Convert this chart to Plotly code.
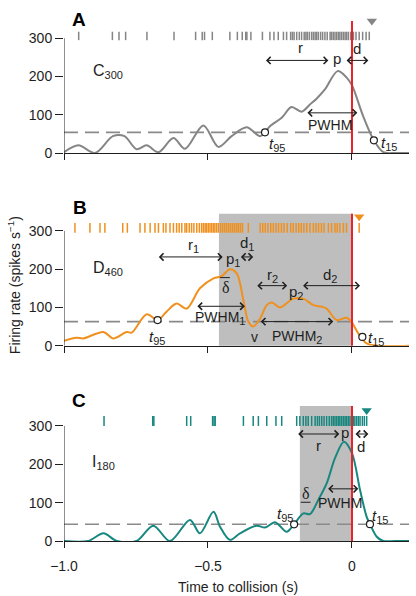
import plotly.graph_objects as go

# ---------------- data ----------------
# Panel A (C300)
A_t = [-1.0, -0.95, -0.892, -0.83, -0.79, -0.748, -0.713, -0.672, -0.62, -0.58, -0.516, -0.464,
       -0.418, -0.366, -0.319, -0.302, -0.285, -0.244, -0.21, -0.175, -0.146, -0.123, -0.094,
       -0.05, -0.0185, 0.0, 0.039, 0.076, 0.109, 0.15, 0.198]
A_rate = [2, 20, 0, 44, 44, 10, 20, 2, 39, 11, 72, 16, 44, 67, 44, 54, 70, 92, 120, 108, 127, 142,
          166, 214, 197, 177, 96, 33, 2, 0, 0]
A_spikes = [-0.949, -0.832, -0.809, -0.786, -0.712, -0.618, -0.543, -0.520, -0.512, -0.485, -0.424,
            -0.398, -0.381, -0.369, -0.365, -0.351, -0.311, -0.285, -0.271, -0.256, -0.238, -0.227,
            -0.213, -0.207, -0.201, -0.192, -0.183, -0.175, -0.166, -0.160, -0.155, -0.148, -0.140,
            -0.134, -0.128, -0.123, -0.117, -0.109, -0.102, -0.094, -0.086, -0.076, -0.071, -0.065,
            -0.059, -0.053, -0.047, -0.042, -0.036, -0.030, -0.024, -0.019, -0.013, -0.005, 0.005,
            0.014, 0.025, 0.037, 0.049, 0.060]
A_thr = 54
A_t95 = (-0.302, 54)
A_t15 = (0.076, 33)
A_tri = 0.069

# Panel B (D460)
B_t = [-1.0, -0.956, -0.933, -0.863, -0.829, -0.782, -0.765, -0.713, -0.675, -0.644, -0.609, -0.574,
       -0.528, -0.481, -0.452, -0.424, -0.40, -0.377, -0.36, -0.343, -0.319, -0.296, -0.278, -0.25,
       -0.204, -0.169, -0.134, -0.105, -0.088, -0.053, -0.0185, 0.0, 0.022, 0.051, 0.09, 0.198]
B_rate = [13, 21, 19, 36, 19, 36, 34, 82, 67, 89, 110, 97, 150, 176, 182, 200, 189, 119, 63, 50, 71,
          106, 113, 100, 123, 123, 106, 102, 97, 67, 73, 60, 32, 6, 0, 0]
B_spikes = [-0.962, -0.910, -0.875, -0.858, -0.796, -0.780, -0.736, -0.719, -0.701, -0.684, -0.672,
            -0.655, -0.646, -0.632, -0.620, -0.609, -0.600, -0.591, -0.580, -0.574, -0.565, -0.557,
            -0.549, -0.539, -0.530, -0.522, -0.516, -0.510, -0.505, -0.499, -0.493, -0.487, -0.481,
            -0.476, -0.470, -0.464, -0.456, -0.449, -0.442, -0.435, -0.428, -0.421, -0.414, -0.407,
            -0.400, -0.394, -0.387, -0.380, -0.360, -0.319, -0.310, -0.301, -0.292, -0.282, -0.273,
            -0.264, -0.255, -0.245, -0.236, -0.225, -0.213, -0.204, -0.194, -0.185, -0.176, -0.167,
            -0.157, -0.146, -0.134, -0.125, -0.116, -0.106, -0.097, -0.082, -0.071, -0.059, -0.051,
            -0.042, -0.030, -0.019, 0.025]
B_thr = 63
B_t95 = (-0.675, 67)
B_t15 = (0.036, 23)
B_tri = 0.025
B_shade = -0.462

# Panel C (I180)
C_t = [-1.0, -0.916, -0.863, -0.817, -0.748, -0.69, -0.632, -0.5625, -0.528, -0.481, -0.458, -0.424,
       -0.389, -0.331, -0.302, -0.267, -0.227, -0.201, -0.169, -0.146, -0.117, -0.088, -0.059,
       -0.028, 0.0, 0.028, 0.051, 0.0625, 0.086, 0.109, 0.15, 0.198]
C_rate = [0, 0, 20, 0, 0, 40, 0, 55, 20, 76, 37, 3, 20, 40, 35, 49, 24, 43.5, 72, 70, 107, 150, 216,
          259, 229, 133, 63, 44, 11, 0, 0, 0]
C_spikes = [-0.861, -0.692, -0.688, -0.574, -0.560, -0.484, -0.479, -0.475, -0.377, -0.343, -0.325,
            -0.296, -0.264, -0.244, -0.192, -0.181, -0.169, -0.160, -0.152, -0.140, -0.128, -0.120,
            -0.113, -0.105, -0.097, -0.088, -0.079, -0.071, -0.065, -0.059, -0.053, -0.047, -0.042,
            -0.036, -0.030, -0.024, -0.019, -0.013, -0.007, -0.001, 0.005, 0.010, 0.016, 0.022,
            0.028, 0.036, 0.043, 0.051]
C_thr = 43.5
C_t95 = (-0.201, 43.5)
C_t15 = (0.0625, 44)
C_tri = 0.051
C_shade = -0.181

y_ticks = [0, 100, 200, 300]
x_ticks = [-1.0, -0.5, 0]
x_ticktext = ["\u22121.0", "\u22120.5", "0"]

# ---------------- styling ----------------
FONT = "Arial, Liberation Sans, sans-serif"
SERIF = "Times New Roman, Liberation Serif, serif"
INK = "#1e1e1e"
GRAY = "#858585"
ORANGE = "#f0901e"
TEAL = "#17877f"
SHADE = "#bebebe"
RED = "#e8242a"
DASH = "#8a8a8a"

fig = go.Figure()

panels = [
    dict(ax="", t=A_t, r=A_rate, sp=A_spikes, sp_y=(295, 317), col=GRAY, thr=A_thr, t95=A_t95,
         t15=A_t15, tri=(A_tri, 345), shade=None, ymax=345),
    dict(ax="2", t=B_t, r=B_rate, sp=B_spikes, sp_y=(295, 321), col=ORANGE, thr=B_thr, t95=B_t95,
         t15=B_t15, tri=(B_tri, 337), shade=B_shade, ymax=345),
    dict(ax="3", t=C_t, r=C_rate, sp=C_spikes, sp_y=(300, 326), col=TEAL, thr=C_thr, t95=C_t95,
         t15=C_t15, tri=(C_tri, 340), shade=C_shade, ymax=352),
]

shapes = []
for p in panels:
    xr, yr = "x" + p["ax"], "y" + p["ax"]
    if p["shade"] is not None:
        shapes.append(dict(type="rect", xref=xr, yref=yr + " domain", x0=p["shade"], x1=0,
                           y0=0, y1=1, fillcolor=SHADE, line=dict(width=0), layer="below"))
    shapes.append(dict(type="line", xref=xr, yref=yr, x0=-1.0, x1=0.198, y0=p["thr"], y1=p["thr"],
                       line=dict(color=DASH, width=1.6, dash="14px,7px"), layer="below"))
    shapes.append(dict(type="line", xref=xr, yref=yr, x0=-1.0, x1=-1.0, y0=0, y1=300,
                       line=dict(color=INK, width=1)))
    shapes.append(dict(type="line", xref=xr, yref=yr + " domain", x0=0, x1=0, y0=0, y1=1,
                       line=dict(color=RED, width=2), layer="above"))

    xs, ys = [], []
    for s in p["sp"]:
        xs += [s, s, None]
        ys += [p["sp_y"][0], p["sp_y"][1], None]
    fig.add_trace(go.Scatter(x=xs, y=ys, mode="lines", line=dict(color=p["col"], width=1.5),
                             xaxis=xr, yaxis=yr, showlegend=False, hoverinfo="skip",
                             cliponaxis=False))
    fig.add_trace(go.Scatter(x=p["t"], y=p["r"], mode="lines", line=dict(color=p["col"], width=2,
                             shape="spline", smoothing=0.9), xaxis=xr, yaxis=yr,
                             showlegend=False, cliponaxis=False))
    fig.add_trace(go.Scatter(x=[p["t95"][0], p["t15"][0]], y=[p["t95"][1], p["t15"][1]],
                             mode="markers", marker=dict(symbol="circle", size=7, color="white",
                             line=dict(color=INK, width=1.2)), xaxis=xr, yaxis=yr,
                             showlegend=False, cliponaxis=False))
    fig.add_trace(go.Scatter(x=[p["tri"][0]], y=[p["tri"][1]], mode="markers",
                             marker=dict(symbol="triangle-down", size=9, color=p["col"]),
                             xaxis=xr, yaxis=yr, showlegend=False, cliponaxis=False))

ann = []


def sub(s, size=11):
    return "<sub><span style='font-size:%dpx'>%s</span></sub>" % (size, s)


def txt(xr, yr, x, y, s, size=15, family=FONT):
    ann.append(dict(xref=xr, yref=yr, x=x, y=y, text=s, showarrow=False,
                    xanchor="center", yanchor="middle",
                    font=dict(family=family, size=size, color=INK)))


def arr(xr, yr, x0, x1, y):
    ann.append(dict(xref=xr, yref=yr, axref=xr, ayref=yr, x=x1, y=y, ax=x0, ay=y, text="",
                    showarrow=True, arrowhead=4, startarrowhead=4, arrowside="end+start",
                    arrowsize=1.4, startarrowsize=1.4, arrowwidth=1, arrowcolor=INK,
                    standoff=0, startstandoff=0))


T95 = "<i>t</i>" + sub("95")
T15 = "<i>t</i>" + sub("15")

# Panel A
txt("x", "y", -0.846, 214, "C" + sub("300"), size=16)
txt("x", "y", -0.18, 275, "r")
txt("x", "y", -0.053, 247, "p")
txt("x", "y", 0.0185, 273, "d")
txt("x", "y", -0.076, 73, "PWHM", size=14)
txt("x", "y", -0.262, 22, T95)
txt("x", "y", 0.128, 24, T15)
arr("x", "y", -0.304, -0.082, 242)
arr("x", "y", -0.024, 0.057, 242)
arr("x", "y", -0.16, 0.0185, 105)

# Panel B
txt("x2", "y2", -0.846, 203, "D" + sub("460"), size=16)
txt("x2", "y2", -0.551, 262, "r" + sub("1"))
txt("x2", "y2", -0.412, 224, "p" + sub("1"))
txt("x2", "y2", -0.366, 266, "d" + sub("1"))
txt("x2", "y2", -0.438, 152, "\u03b4", size=16, family=SERIF)
txt("x2", "y2", -0.275, 184, "r" + sub("2"))
txt("x2", "y2", -0.194, 139, "p" + sub("2"))
txt("x2", "y2", -0.076, 184, "d" + sub("2"))
txt("x2", "y2", -0.458, 72, "PWHM" + sub("1"), size=14)
txt("x2", "y2", -0.192, 24, "PWHM" + sub("2"), size=14)
txt("x2", "y2", -0.34, 23, "v", size=14)
txt("x2", "y2", -0.678, 21, T95)
txt("x2", "y2", 0.083, 20, T15)
arr("x2", "y2", -0.676, -0.449, 232)
arr("x2", "y2", -0.391, -0.343, 232)
arr("x2", "y2", -0.334, -0.225, 157)
arr("x2", "y2", -0.175, 0.028, 157)
arr("x2", "y2", -0.542, -0.372, 103)
arr("x2", "y2", -0.322, -0.065, 63)
shapes.append(dict(type="line", xref="x2", yref="y2", x0=-0.458, x1=-0.424, y0=178, y1=178,
                   line=dict(color=INK, width=1)))

# Panel C
txt("x3", "y3", -0.863, 204, "I" + sub("180"), size=16)
txt("x3", "y3", -0.117, 250, "r")
txt("x3", "y3", -0.024, 283, "p")
txt("x3", "y3", 0.03, 246, "d")
txt("x3", "y3", -0.161, 124, "\u03b4", size=16, family=SERIF)
txt("x3", "y3", -0.042, 98, "PWHM", size=14)
txt("x3", "y3", -0.233, 68, T95)
txt("x3", "y3", 0.097, 64, T15)
arr("x3", "y3", -0.192, -0.044, 279)
arr("x3", "y3", 0.007, 0.057, 279)
arr("x3", "y3", -0.088, 0.022, 136)
shapes.append(dict(type="line", xref="x3", yref="y3", x0=-0.178, x1=-0.144, y0=101, y1=101,
                   line=dict(color=INK, width=1)))

# panel letters & titles
for letter, px, py in [("A", 0.0435, 1.0025), ("B", 0.0478, 0.641), ("C", 0.043, 0.271)]:
    ann.append(dict(xref="paper", yref="paper", x=px, y=py, text="<b>%s</b>" % letter,
                    xanchor="center", yanchor="middle", showarrow=False,
                    font=dict(family=FONT, size=19, color="black")))
ann.append(dict(xref="paper", yref="paper", x=-0.145, y=0.492, textangle=-90, showarrow=False,
                xanchor="center", yanchor="middle",
                text="Firing rate (spikes s<sup>\u22121</sup>)",
                font=dict(family=FONT, size=14, color=INK)))
ann.append(dict(xref="paper", yref="paper", x=0.503, y=-0.0885, showarrow=False,
                xanchor="center", yanchor="middle",
                text="Time to collision (s)", font=dict(family=FONT, size=14, color=INK)))

# ---------------- layout ----------------
H = 520.0
doms = {"": [388 / H, 1.0], "2": [195.3 / H, 327.3 / H], "3": [0.0, 135 / H]}
layout = dict(width=416, height=596, margin=dict(l=64, r=7, t=21, b=55),
              paper_bgcolor="white", plot_bgcolor="rgba(0,0,0,0)",
              font=dict(family=FONT, size=14, color=INK),
              shapes=shapes, annotations=ann, showlegend=False)
for p in panels:
    a = p["ax"]
    layout["xaxis" + a] = dict(domain=[0, 1], range=[-1.0, 0.198], anchor="y" + a,
                               tickvals=x_ticks, ticktext=x_ticktext,
                               showticklabels=(a == "3"), ticks="outside", ticklen=6,
                               tickwidth=1, tickcolor=INK, showline=True, linecolor=INK,
                               linewidth=1, showgrid=False, zeroline=False,
                               ticklabelstandoff=6,
                               tickfont=dict(size=14, color=INK))
    layout["yaxis" + a] = dict(domain=doms[a], range=[0, p["ymax"]], anchor="x" + a,
                               tickvals=y_ticks, ticks="outside", ticklen=8, tickwidth=1,
                               tickcolor=INK, showline=False, showgrid=False, zeroline=False,
                               tickfont=dict(size=14, color=INK))
fig.update_layout(**layout)

fig.write_html("out.html")
